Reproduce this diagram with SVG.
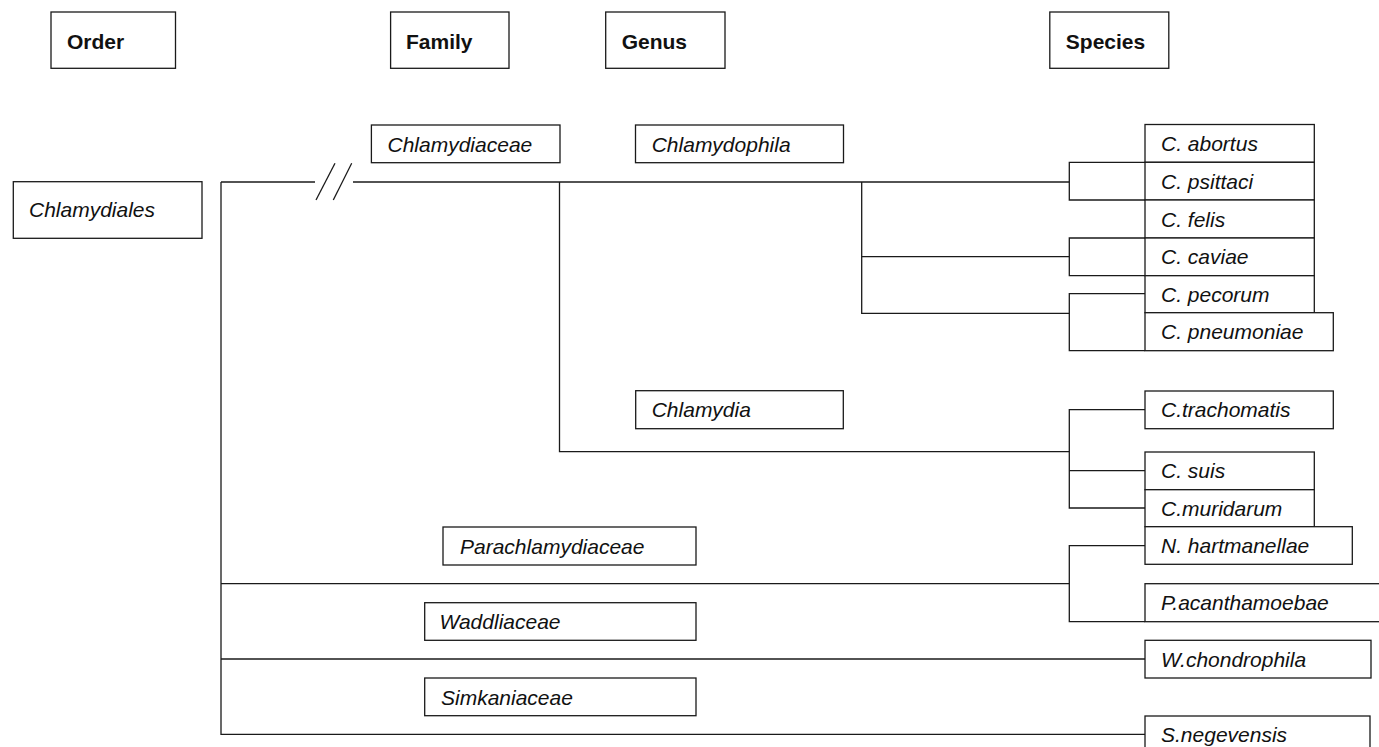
<svg xmlns="http://www.w3.org/2000/svg" width="1379" height="747" viewBox="0 0 1379 747">
<style>
  rect { fill: #fff; stroke: #1a1a1a; stroke-width: 1.3; }
  .c path, .c line { fill: none; stroke: #1a1a1a; stroke-width: 1.3; }
  text { font-family: "Liberation Sans", Arial, sans-serif; font-size: 21px; fill: #111; }
  .h { font-weight: bold; }
  .i { font-style: italic; }
</style>
<rect x="0" y="0" width="1379" height="747" style="fill:#fff;stroke:none"/>
<g class="c" id="connectors">
  <path d="M221,182 H315"/>
  <path d="M353,182 H1069.3"/>
  <line x1="316" y1="200" x2="335" y2="163.3"/>
  <line x1="333.3" y1="200" x2="351.7" y2="163.3"/>
  <path d="M221,182 V734.3 H1145"/>
  <path d="M221,583.7 H1069.3"/>
  <path d="M221,659 H1145"/>
  <path d="M559.5,182 V451.7 H1069.3"/>
  <path d="M861.7,182 V313.3 H1069.3"/>
  <path d="M861.7,256.7 H1069.3"/>
  <path d="M1145,162.3 H1069.3 V200 H1145"/>
  <path d="M1145,238 H1069.3 V275.7 H1145"/>
  <path d="M1145,293.7 H1069.3 V350.7 H1145"/>
  <path d="M1145,409.7 H1069.3 V508 H1145"/>
  <path d="M1069.3,470.7 H1145"/>
  <path d="M1145,545.7 H1069.3 V621.7 H1145"/>
</g>
<g id="hdr-order"><rect x="51" y="12" width="124.5" height="56.3"/><text class="h" x="67" y="48.5">Order</text></g>
<g id="hdr-family"><rect x="390.6" y="12" width="118.4" height="56.3"/><text class="h" x="406" y="48.5">Family</text></g>
<g id="hdr-genus"><rect x="605.7" y="12" width="119.3" height="56.3"/><text class="h" x="621.7" y="48.5">Genus</text></g>
<g id="hdr-species"><rect x="1049.8" y="12" width="119" height="56.3"/><text class="h" x="1065.8" y="48.5">Species</text></g>

<g id="chlamydiales"><rect x="13.3" y="181.7" width="188.7" height="56.6"/><text class="i" x="29" y="217">Chlamydiales</text></g>
<g id="chlamydiaceae"><rect x="371.4" y="125" width="188.6" height="37.7"/><text class="i" x="387.5" y="151.5">Chlamydiaceae</text></g>
<g id="chlamydophila"><rect x="635.5" y="125" width="208" height="37.7"/><text class="i" x="651.7" y="151.5">Chlamydophila</text></g>
<g id="chlamydia"><rect x="635.7" y="390.7" width="207.6" height="38"/><text class="i" x="651.7" y="417">Chlamydia</text></g>
<g id="parachlamydiaceae"><rect x="443" y="527" width="253" height="38"/><text class="i" x="460" y="553.5">Parachlamydiaceae</text></g>
<g id="waddliaceae"><rect x="424.7" y="602.7" width="271.3" height="37.6"/><text class="i" x="439.5" y="629">Waddliaceae</text></g>
<g id="simkaniaceae"><rect x="424.7" y="678" width="271.3" height="37.7"/><text class="i" x="441" y="704.5">Simkaniaceae</text></g>

<g id="sp-abortus"><rect x="1145" y="124.5" width="169.3" height="37.8"/><text class="i" x="1161" y="151">C. abortus</text></g>
<g id="sp-psittaci"><rect x="1145" y="162.3" width="169.3" height="37.7"/><text class="i" x="1161" y="188.7">C. psittaci</text></g>
<g id="sp-felis"><rect x="1145" y="200" width="169.3" height="38"/><text class="i" x="1161" y="226.5">C. felis</text></g>
<g id="sp-caviae"><rect x="1145" y="238" width="169.3" height="37.7"/><text class="i" x="1161" y="264.3">C. caviae</text></g>
<g id="sp-pecorum"><rect x="1145" y="275.7" width="169.3" height="37"/><text class="i" x="1161" y="301.7">C. pecorum</text></g>
<g id="sp-pneumoniae"><rect x="1145" y="312.7" width="188.3" height="38"/><text class="i" x="1161" y="339.2">C. pneumoniae</text></g>
<g id="sp-trachomatis"><rect x="1145" y="391" width="188.3" height="37.7"/><text class="i" x="1161" y="417.3">C.trachomatis</text></g>
<g id="sp-suis"><rect x="1145" y="452" width="169.3" height="37.7"/><text class="i" x="1161" y="478.3">C. suis</text></g>
<g id="sp-muridarum"><rect x="1145" y="489.7" width="169.3" height="37"/><text class="i" x="1161" y="515.7">C.muridarum</text></g>
<g id="sp-hartmanellae"><rect x="1145" y="526.7" width="207.3" height="37.6"/><text class="i" x="1161" y="553">N. hartmanellae</text></g>
<g id="sp-acanthamoebae"><rect x="1145" y="583.7" width="300" height="38"/><text class="i" x="1161" y="610">P.acanthamoebae</text></g>
<g id="sp-chondrophila"><rect x="1145" y="640.3" width="226" height="37.7"/><text class="i" x="1161" y="666.7">W.chondrophila</text></g>
<g id="sp-negevensis"><rect x="1145" y="716" width="225" height="40"/><text class="i" x="1161" y="742.3">S.negevensis</text></g>
</svg>
